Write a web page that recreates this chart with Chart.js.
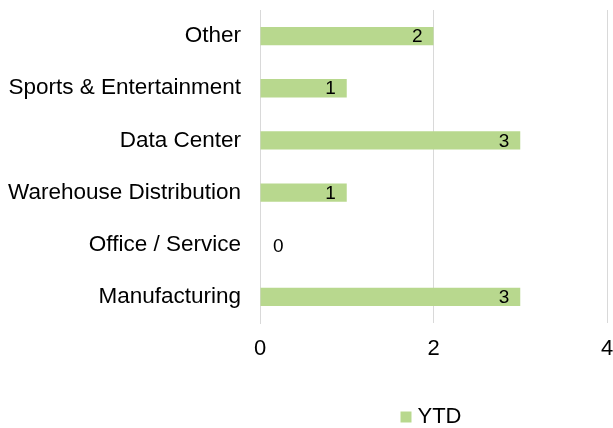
<!DOCTYPE html>
<html>
<head>
<meta charset="utf-8">
<script src="https://cdn.jsdelivr.net/npm/chart.js@4.4.1/dist/chart.umd.min.js"></script>
<style>
  html, body { margin: 0; padding: 0; background: #fff; overflow: hidden; }
  #wrap { width: 613px; height: 428px; position: relative; }
</style>
</head>
<body>
<div id="wrap"><canvas id="chart"></canvas></div>
<script>
// ── Datos ──────────────────────────────
const CATEGORIES = ['Other', 'Sports & Entertainment', 'Data Center', 'Warehouse Distribution', 'Office / Service', 'Manufacturing'];
const YTD = [2, 1, 3, 1, 0, 3];
const X_TICKS = [0, 2, 4];

const GREEN = '#b8d88e';
const GRID  = '#d9d9d9';
const FONT  = '"Liberation Sans", Arial, sans-serif';

// etiquetas de valor al final de cada barra
const valueLabels = {
  id: 'valueLabels',
  afterDatasetsDraw(chart) {
    const ctx = chart.ctx;
    const meta = chart.getDatasetMeta(0);
    ctx.save();
    ctx.font = '19px ' + FONT;
    ctx.fillStyle = '#000';
    ctx.textBaseline = 'middle';
    meta.data.forEach((bar, i) => {
      const v = chart.data.datasets[0].data[i];
      if (v > 0) {
        ctx.textAlign = 'right';
        ctx.fillText(String(v), bar.x - 11, bar.y + 1);
      } else {
        ctx.textAlign = 'left';
        ctx.fillText(String(v), bar.x + 13, bar.y + 2);
      }
    });
    ctx.restore();
  }
};

new Chart(document.getElementById('chart'), {
  type: 'bar',
  data: {
    labels: CATEGORIES,
    datasets: [{
      label: 'YTD',
      data: YTD,
      backgroundColor: GREEN,
      borderWidth: 0,
      barPercentage: 0.35,
      categoryPercentage: 1
    }]
  },
  options: {
    indexAxis: 'y',
    responsive: true,
    maintainAspectRatio: false,
    animation: false,
    layout: { padding: { top: 10, left: 0, right: 6, bottom: -10 } },
    plugins: {
      tooltip: { enabled: false },
      legend: {
        position: 'bottom',
        fullSize: false,
        labels: {
          color: '#000',
          font: { family: FONT, size: 22 },
          usePointStyle: true,
          pointStyle: 'rect',
          boxWidth: 1,
          boxHeight: 11,
          padding: 2
        }
      }
    },
    scales: {
      x: {
        min: 0,
        max: 4,
        afterBuildTicks: s => { s.ticks = X_TICKS.map(v => ({ value: v })); },
        afterFit: s => { s.height = 81; s.paddingLeft = 0; s.paddingRight = 0; },
        ticks: { color: '#000', font: { family: FONT, size: 22 }, padding: 13 },
        grid: { color: GRID, drawTicks: false },
        border: { display: false }
      },
      y: {
        afterFit: s => { s.width = 260; s.paddingTop = 0; s.paddingBottom = 0; },
        ticks: { color: '#000', font: { family: FONT, size: 22.5 }, padding: 19 },
        grid: { display: false, drawTicks: false },
        border: { color: GRID }
      }
    }
  },
  plugins: [valueLabels]
});
</script>
</body>
</html>
